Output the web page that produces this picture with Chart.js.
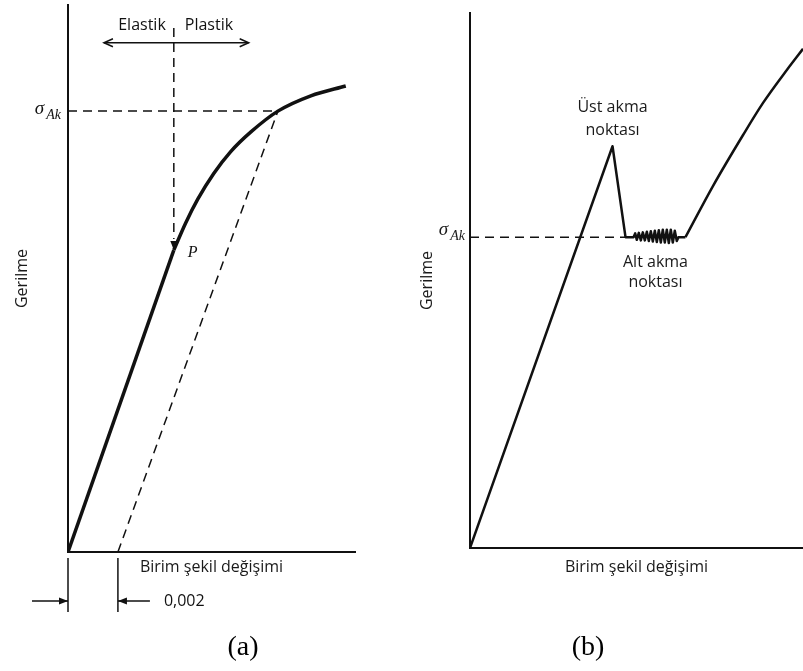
<!DOCTYPE html>
<html>
<head>
<meta charset="utf-8">
<title>Gerilme - Birim şekil değişimi</title>
<script src="https://cdn.jsdelivr.net/npm/chart.js@4.4.1/dist/chart.umd.min.js"></script>
<style>
  html, body { margin: 0; padding: 0; background: #fff; }
  #wrap { position: relative; width: 803px; height: 671px; overflow: hidden; }
  #chartA { position: absolute; left: 0; top: 0; }
  #chartB { position: absolute; left: 400px; top: 0; }
</style>
</head>
<body>
<div id="wrap">
  <canvas id="chartA" width="400" height="671"></canvas>
  <canvas id="chartB" width="403" height="671"></canvas>
</div>
<script>
// (a) offset method: elastic line up to P, then the plastic curve
const strainElasticA = [0, 0.00424];
const stressElasticA = [0, 55.2];
const strainPlasticA = [0.00424, 0.00472, 0.0052, 0.00584, 0.00652, 0.00733, 0.00841, 0.00973, 0.01113];
const stressPlasticA = [55.2, 60.2, 64.5, 69.2, 73.2, 76.8, 80.6, 83.4, 85.2];
const offsetA = 0.002;
const yieldStrainA = 0.00841;
const yieldA = 80.6;

// (b) upper / lower yield point, serrated plateau, then hardening
const strainB = [0, 4.28, 4.67, 4.91, 4.96, 5.01, 5.07, 5.13, 5.19, 5.25, 5.31, 5.37, 5.43, 5.49,
  5.55, 5.61, 5.67, 5.73, 5.79, 5.85, 5.91, 5.97, 6.03, 6.09, 6.15, 6.21, 6.26, 6.47];
const stressB = [0, 75.1, 58.1, 58.1, 58.8, 57.6, 58.9, 57.5, 59.0, 57.5, 59.1, 57.4, 59.2, 57.3,
  59.3, 57.2, 59.4, 57.1, 59.5, 57.1, 59.5, 57.0, 59.5, 57.1, 59.3, 57.4, 58.1, 58.1];
const strainHardB = [6.47, 7.3, 8.2, 8.8, 9.52, 10];
const stressHardB = [58.1, 67.7, 77.2, 83.2, 89.4, 93.3];
const yieldB = 58.1;

const ink = '#111';
const sans = '16px "Open Sans", sans-serif';
Chart.defaults.font.family = '"Open Sans", sans-serif';
Chart.defaults.color = '#1a1a1a';

function pts(xs, ys) {
  return xs.map((v, i) => ({ x: v, y: ys[i] }));
}

function say(ctx, str, x, y, font, align) {
  ctx.font = font;
  ctx.textAlign = align || 'center';
  ctx.textBaseline = 'middle';
  ctx.fillText(str, x, y);
}

function seg(ctx, x1, y1, x2, y2, w) {
  ctx.lineWidth = w;
  ctx.beginPath();
  ctx.moveTo(x1, y1);
  ctx.lineTo(x2, y2);
  ctx.stroke();
}

// arrow head with its tip at (x, y)
function head(ctx, x, y, ang, len, half, open) {
  const bx = x - Math.cos(ang) * len, by = y - Math.sin(ang) * len;
  const nx = -Math.sin(ang) * half, ny = Math.cos(ang) * half;
  ctx.beginPath();
  ctx.moveTo(bx + nx, by + ny);
  ctx.lineTo(x, y);
  ctx.lineTo(bx - nx, by - ny);
  if (open) {
    ctx.lineWidth = 1.5;
    ctx.stroke();
  } else {
    ctx.closePath();
    ctx.fill();
  }
}

function sigmaAk(ctx, right, yMid, lift) {
  const big = 'italic 19px "Liberation Serif", serif';
  const small = 'italic 14px "Liberation Serif", serif';
  ctx.font = big;
  const ws = ctx.measureText('σ').width;
  ctx.font = small;
  const wa = ctx.measureText('Ak').width;
  ctx.textBaseline = 'middle';
  ctx.textAlign = 'left';
  ctx.font = big;
  ctx.fillText('σ', right - wa - ws - 2, yMid - lift);
  ctx.font = small;
  ctx.fillText('Ak', right - wa, yMid - lift + 6);
}

function axis(min, max, title, pad) {
  return {
    type: 'linear',
    min: min,
    max: max,
    ticks: { display: false },
    grid: { display: false, drawTicks: false },
    border: { display: true, color: ink, width: 2 },
    title: { display: true, text: title, color: '#1a1a1a', font: { size: 16 }, padding: pad }
  };
}

function line(data, width, dash, smooth) {
  return {
    data: data,
    showLine: true,
    borderColor: ink,
    borderWidth: width,
    borderDash: dash || [],
    borderJoinStyle: 'round',
    pointRadius: 0,
    tension: 0,
    cubicInterpolationMode: smooth ? 'monotone' : 'default',
    fill: false
  };
}

const notesA = {
  id: 'notesA',
  afterDraw(chart) {
    const { ctx, scales: { x, y } } = chart;
    const x0 = x.getPixelForValue(0), y0 = y.getPixelForValue(0);
    const xOff = x.getPixelForValue(offsetA);
    const pX = x.getPixelForValue(strainElasticA[1]);
    const pY = y.getPixelForValue(stressElasticA[1]);
    ctx.save();
    ctx.strokeStyle = ink;
    ctx.fillStyle = ink;

    head(ctx, pX, pY, Math.PI / 2, 9, 3.5);
    say(ctx, 'P', pX + 14, pY + 3, 'italic 16px "Liberation Serif", serif', 'left');
    sigmaAk(ctx, x0 - 7, y.getPixelForValue(yieldA), 2);

    // Elastik / Plastik double arrow
    const ty = y.getPixelForValue(96.3), ay = y.getPixelForValue(93.1);
    say(ctx, 'Elastik', pX - 8, ty, sans, 'right');
    say(ctx, 'Plastik', pX + 11, ty, sans, 'left');
    const a1 = x.getPixelForValue(0.00144), a2 = x.getPixelForValue(0.00724);
    seg(ctx, a1, ay, a2, ay, 1.5);
    head(ctx, a1, ay, Math.PI, 9, 4, true);
    head(ctx, a2, ay, 0, 9, 4, true);

    // 0,002 offset dimension under the axis
    seg(ctx, x0, y0 + 6, x0, y0 + 60, 1.5);
    seg(ctx, xOff, y0 + 6, xOff, y0 + 60, 1.5);
    seg(ctx, x0 - 36, y0 + 49, x0, y0 + 49, 1.5);
    head(ctx, x0, y0 + 49, 0, 9, 3.5);
    seg(ctx, xOff + 32, y0 + 49, xOff, y0 + 49, 1.5);
    head(ctx, xOff, y0 + 49, Math.PI, 9, 3.5);
    say(ctx, '0,002', xOff + 46, y0 + 49, sans, 'left');

    ctx.fillStyle = '#000';
    say(ctx, '(a)', 243, 648, '28px "Liberation Serif", serif');
    ctx.restore();
  }
};

const notesB = {
  id: 'notesB',
  afterDraw(chart) {
    const { ctx, scales: { x, y } } = chart;
    const x0 = x.getPixelForValue(0);
    const top = stressB.indexOf(Math.max(...stressB));
    const peakX = x.getPixelForValue(strainB[top]);
    const peakY = y.getPixelForValue(stressB[top]);
    const lowY = y.getPixelForValue(yieldB);
    const midX = x.getPixelForValue((strainB[2] + strainHardB[0]) / 2);
    ctx.save();
    ctx.fillStyle = '#1a1a1a';
    sigmaAk(ctx, x0 - 5, lowY, 7);
    say(ctx, 'Üst akma', peakX, peakY - 39, sans);
    say(ctx, 'noktası', peakX, peakY - 16, sans);
    say(ctx, 'Alt akma', midX, lowY + 25, sans);
    say(ctx, 'noktası', midX, lowY + 45, sans);
    ctx.fillStyle = '#000';
    say(ctx, '(b)', 188, 648, '28px "Liberation Serif", serif');
    ctx.restore();
  }
};

const common = {
  responsive: false,
  animation: false,
  events: [],
  plugins: { legend: { display: false }, tooltip: { enabled: false } }
};

new Chart(document.getElementById('chartA'), {
  type: 'scatter',
  data: {
    datasets: [
      line([{ x: offsetA, y: 0 }, { x: yieldStrainA, y: yieldA }], 1.5, [9, 6]),
      line([{ x: 0, y: yieldA }, { x: yieldStrainA, y: yieldA }], 1.5, [9, 6]),
      line([{ x: strainElasticA[1], y: 95.8 }, { x: strainElasticA[1], y: stressElasticA[1] + 2 }], 1.5, [9, 6]),
      line(pts(strainElasticA, stressElasticA), 3.5),
      line(pts(strainPlasticA, stressPlasticA), 3.5, null, true)
    ]
  },
  options: Object.assign({}, common, {
    layout: { padding: { left: 0, top: 5, right: 45, bottom: 93.8 } },
    scales: {
      x: axis(0, 0.0115, 'Birim şekil değişimi', { top: 6, bottom: 0 }),
      y: axis(0, 100, 'Gerilme', { top: 12.4, bottom: 36.4 })
    }
  }),
  plugins: [notesA]
});

new Chart(document.getElementById('chartB'), {
  type: 'scatter',
  data: {
    datasets: [
      line([{ x: 0, y: yieldB }, { x: strainB[2], y: yieldB }], 1.5, [9, 6]),
      line(pts(strainB, stressB), 2.5),
      line(pts(strainHardB, stressHardB), 2.5, null, true)
    ]
  },
  options: Object.assign({}, common, {
    layout: { padding: { left: 0, top: 13, right: 0, bottom: 94.4 } },
    scales: {
      x: axis(0, 10, 'Birim şekil değişimi', { top: 9.4, bottom: 0 }),
      y: axis(0, 100, 'Gerilme', { top: 17.4, bottom: 33.4 })
    }
  }),
  plugins: [notesB]
});
</script>
</body>
</html>
